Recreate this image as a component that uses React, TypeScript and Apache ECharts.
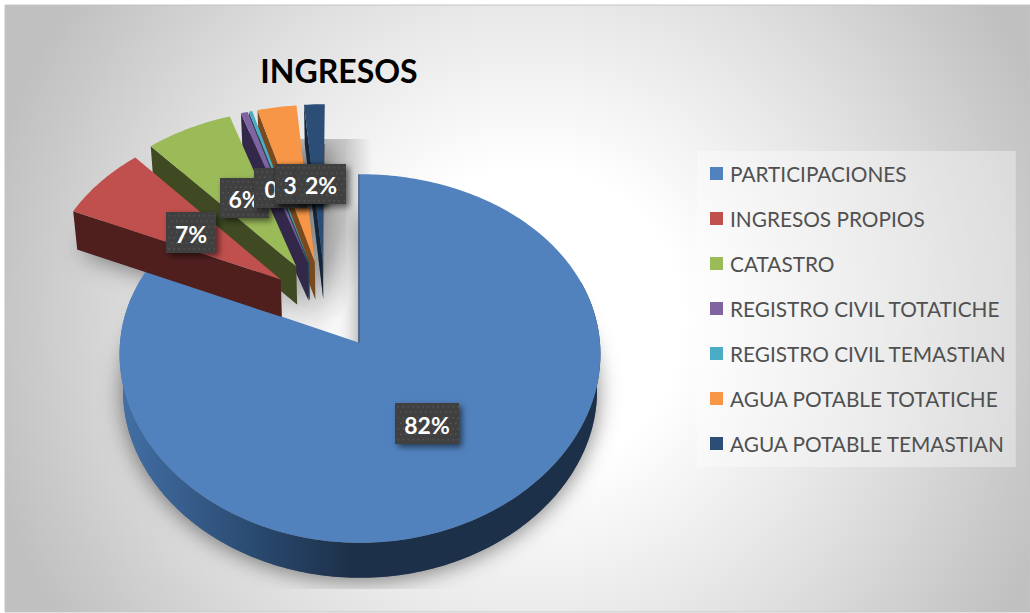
import React, { useEffect, useRef } from "react";
import * as echarts from "echarts";

const categories = [
  "PARTICIPACIONES",
  "INGRESOS PROPIOS",
  "CATASTRO",
  "REGISTRO CIVIL TOTATICHE",
  "REGISTRO CIVIL TEMASTIAN",
  "AGUA POTABLE TOTATICHE",
  "AGUA POTABLE TEMASTIAN",
];
const values = [81.7, 6.8, 6.4, 0.5, 0.25, 2.85, 1.5];
const labelTexts = ["82%", "7%", "6%", "0%", "0%", "3%", "2%"];

const topColors = ["#5182BE", "#C0504D", "#9BBB59", "#8064A2", "#4BACC6", "#F79646", "#2C4D75"];
const wallColors = ["#1D3049", "#4F1F1E", "#3F4A23", "#33284A", "#1F4A56", "#7A4A1F", "#14263C"];
const drawOrder = [0, 6, 5, 4, 3, 2, 1];
// label boxes: left, top, width, height (layout only), drawn in this order
const labelOrder = [0, 1, 2, 3, 4, 5, 6];
const labelBoxes: Record<number, number[]> = {
  0: [395, 403, 64, 41],
  1: [166, 212, 50, 41],
  2: [220, 178, 49, 40],
  3: [254, 168, 53, 40],
  4: [275, 164, 49, 40],
  5: [275, 164, 49, 40],
  6: [296, 164, 50, 40],
};

// projection of the tilted pie
const CX = 360, CY = 343, RX = 240, RY = 183, PY = 0.084, PX = 0.06, EXPLODE = 0.25;
const TOTAL = values.reduce((a, b) => a + b, 0);
const rad = (d: number) => (d * Math.PI) / 180;
const starts: number[] = [];
values.reduce((acc, v, i) => {
  starts[i] = acc;
  return acc + (v / TOTAL) * 360;
}, 0);
const midOf = (i: number) => starts[i] + ((values[i] / TOTAL) * 360) / 2;
const offsetOf = (i: number) => {
  const m0 = rad(midOf(0));
  const m = rad(midOf(i));
  const nudgeX = i >= 2 ? -0.012 : 0;
  const nudgeY = i >= 2 ? 0.006 : 0;
  return [
    EXPLODE * (Math.sin(m) - Math.sin(m0)) + nudgeX,
    EXPLODE * (Math.cos(m) - Math.cos(m0)) + nudgeY,
  ];
};
const project = (X: number, Y: number) => [
  CX + (X * RX) / (1 + PX * Y),
  CY - (Y * RY) / (1 + PY * Y),
];
const lower = (p: number[]) => [CX + (p[0] - CX) * 0.986, p[1] * 0.99 + 40.5];
const rimPoint = (i: number, deg: number) => {
  const o = offsetOf(i);
  return project(o[0] + Math.sin(rad(deg)), o[1] + Math.cos(rad(deg)));
};
const apexOf = (i: number) => {
  const o = offsetOf(i);
  return project(o[0], o[1]);
};
const rimArc = (i: number, from: number, to: number) => {
  const n = Math.max(2, Math.ceil(Math.abs(to - from)));
  const pts: number[][] = [];
  for (let k = 0; k <= n; k++) pts.push(rimPoint(i, from + ((to - from) * k) / n));
  return pts;
};
const slicePoints = (i: number) => {
  const sweep = (values[i] / TOTAL) * 360;
  return [apexOf(i), ...rimArc(i, starts[i], starts[i] + sweep)];
};

const renderSlice = (i: number) => () => {
  const children: any[] = [];
  const top = slicePoints(i);
  if (i === 0) {
    const arc = rimArc(0, 70, 285);
    children.push({
      type: "polygon",
      shape: { points: [...arc, ...arc.map(lower).reverse()] },
      style: {
        fill: {
          type: "linear", x: 0, y: 0, x2: 1, y2: 0,
          colorStops: [
            { offset: 0, color: "#4370A6" },
            { offset: 0.28, color: "#2A4A70" },
            { offset: 0.48, color: "#1D3049" },
            { offset: 1, color: "#1D3049" },
          ],
        },
      },
    });
    children.push({
      type: "line",
      shape: { x1: CX - 1, y1: top[1][1], x2: CX - 1, y2: CY },
      style: { stroke: "#2D4A6E", lineWidth: 1.5 },
    });
  } else {
    const a = apexOf(i);
    const r = rimPoint(i, starts[i]);
    children.push({
      type: "polygon",
      shape: { points: [a, r, lower(r), lower(a)] },
      style: { fill: wallColors[i] },
    });
  }
  children.push({ type: "polygon", shape: { points: top }, style: { fill: topColors[i] } });
  return { type: "group", children };
};

const renderShadow = (params: any) => {
  const i = params.dataIndex;
  return {
    type: "polygon",
    shape: { points: slicePoints(i).map(lower) },
    style: {
      fill: "#777",
      shadowBlur: i === 0 ? 22 : 24,
      shadowColor: "rgba(0,0,0,0.5)",
      shadowOffsetX: i === 0 ? 0 : 4,
      shadowOffsetY: 2,
    },
    clipPath: { type: "rect", shape: { x: 20, y: 139, width: 640, height: 450 } },
  };
};

const renderLabel = (params: any) => {
  const i = labelOrder[params.dataIndex];
  const [x, y, w, h] = labelBoxes[i];
  const dots: any[] = [];
  for (let dy = 3, r = 0; dy < h; dy += 5.5, r++) {
    for (let dx = r % 2 ? 5 : 2.5; dx < w; dx += 5) {
      dots.push({
        type: "rect",
        shape: { x: x + dx, y: y + dy, width: 1.5, height: 1.5 },
        style: { fill: "#545454" },
      });
    }
  }
  return {
    type: "group",
    children: [
      {
        type: "rect",
        shape: { x, y, width: w, height: h },
        style: {
          fill: "#404040",
          shadowBlur: 6,
          shadowColor: "rgba(0,0,0,0.55)",
          shadowOffsetX: 3,
          shadowOffsetY: 3,
        },
      },
      ...dots,
      {
        type: "text",
        style: {
          text: labelTexts[i],
          x: x + w / 2,
          y: y + h / 2 + 1,
          align: "center",
          verticalAlign: "middle",
          fill: "#FFFFFF",
          font: 'bold 23px Lato, "Open Sans", sans-serif',
        },
      },
    ],
  };
};

export default function App() {
  const ref = useRef<HTMLDivElement>(null);
  useEffect(() => {
    document.body.style.margin = "0";
    const chart = echarts.init(ref.current!, undefined, { renderer: "svg" });
    chart.setOption({
      animation: false,
      backgroundColor: "#FFFFFF",
      title: {
        text: "INGRESOS",
        left: 334,
        top: 49,
        textAlign: "center",
        textStyle: { color: "#000", fontFamily: "Lato", fontWeight: "bold", fontSize: 32 },
      },
      legend: {
        data: categories,
        orient: "vertical",
        left: 697,
        top: 151,
        padding: [12, 9, 13, 13],
        itemWidth: 13,
        itemHeight: 13,
        itemGap: 24,
        icon: "rect",
        backgroundColor: "rgba(255,255,255,0.35)",
        selectedMode: false,
        textStyle: { color: "#505050", fontFamily: "Lato", fontSize: 20.8, padding: [0, 0, 0, 2] },
      },
      graphic: [
        {
          type: "rect",
          z: -10,
          shape: { x: 5, y: 5, width: 1025, height: 607 },
          style: {
            fill: {
              type: "radial", x: 530, y: 320, r: 560, global: true,
              colorStops: [
                { offset: 0, color: "#FFFFFF" },
                { offset: 0.27, color: "#FFFFFF" },
                { offset: 0.56, color: "#E8E8E8" },
                { offset: 0.7, color: "#DCDCDC" },
                { offset: 0.9, color: "#C9C9C9" },
                { offset: 1, color: "#C0C0C0" },
              ],
            },
            stroke: "#C4C4C4",
            lineWidth: 1,
          },
        },
        {
          type: "rect",
          z: -5,
          shape: { x: 250, y: 139, width: 122, height: 340 },
          style: {
            fill: {
              type: "radial", x: 0.5, y: 0.09, r: 0.5,
              colorStops: [
                { offset: 0, color: "rgba(200,200,200,1)" },
                { offset: 0.6, color: "rgba(200,200,200,1)" },
                { offset: 1, color: "rgba(205,205,205,0)" },
              ],
            },
          },
        },
      ],
      series: [
        {
          type: "custom",
          name: "sombra",
          coordinateSystem: "none",
          silent: true,
          renderItem: renderShadow,
          data: values.map((v) => [v]),
        },
        ...drawOrder.map((i) => ({
          type: "custom",
          name: categories[i],
          coordinateSystem: "none",
          silent: true,
          itemStyle: { color: topColors[i] },
          renderItem: renderSlice(i),
          data: [[values[i]]],
        })),
        {
          type: "custom",
          name: "etiquetas",
          coordinateSystem: "none",
          silent: true,
          renderItem: renderLabel,
          data: labelOrder.map((i) => [values[i]]),
        },
      ],
    });
    return () => chart.dispose();
  }, []);
  return <div ref={ref} style={{ width: 1030, height: 613 }} />;
}
